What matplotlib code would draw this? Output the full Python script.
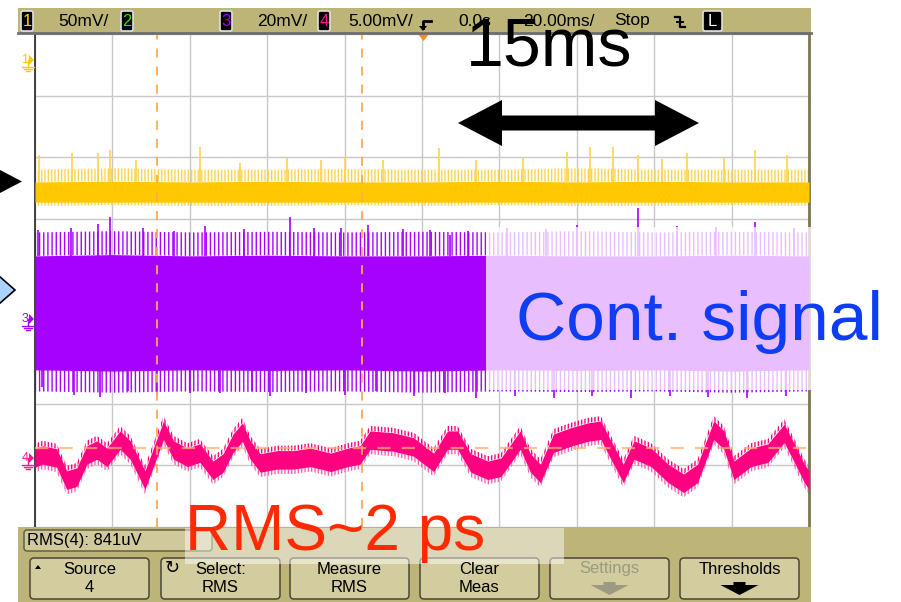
import matplotlib
matplotlib.use("Agg")
import matplotlib.pyplot as plt
from matplotlib.patches import Rectangle, Polygon, FancyBboxPatch

plt.rcParams['hatch.linewidth'] = 1.0
SANS = ['Liberation Sans', 'DejaVu Sans']
UIF = ['Liberation Sans Narrow', 'Liberation Sans', 'DejaVu Sans']

# ---------------- data (screen divisions: x 0..10 @ 20 ms/div, y -4..4) ----------------
header_scales = ["50mV/", "20mV/", "5.00mV/"]
header_time = ["0.0s", "20.00ms/", "Stop"]
channel_ids = ["1", "2", "3", "4"]
meas_text = "RMS(4): 841uV"
softkey_top = ["Source", "Select:", "Measure", "Clear", "Settings", "Thresholds"]
softkey_bottom = ["4", "RMS", "RMS", "Meas", "", ""]

cursor_t = [1.58, 4.22]
ch4_ref_level = -2.72

env_t = [0, 1, 2, 3, 4, 5, 6, 7, 8, 9, 10]
yellow_core_hi = [1.60, 1.61, 1.60, 1.61, 1.60, 1.60, 1.61, 1.60, 1.61, 1.60, 1.60]
yellow_core_lo = [1.27, 1.27, 1.27, 1.27, 1.27, 1.27, 1.27, 1.27, 1.27, 1.27, 1.27]
yellow_fringe_hi = [1.80, 1.82, 1.80, 1.80, 1.81, 1.80, 1.80, 1.82, 1.80, 1.80, 1.80]
yellow_fringe_lo = [1.21, 1.22, 1.21, 1.21, 1.22, 1.21, 1.22, 1.21, 1.21, 1.22, 1.21]
yellow_spike_t = [0.05, 0.48, 0.81, 0.97, 1.30, 2.13, 2.65, 3.26, 3.70, 4.00, 4.50,
                  5.22, 5.70, 6.30, 6.87, 7.17, 7.47, 7.79, 8.10, 8.42, 8.90, 9.30, 9.72]
yellow_spike_v = [2.04, 2.07, 2.07, 2.12, 1.95, 2.17, 1.91, 1.98, 1.95, 2.00, 1.95,
                  2.15, 1.96, 1.99, 2.09, 2.17, 2.17, 2.04, 1.97, 2.07, 1.98, 2.12, 2.04]

purple_core_hi = [0.40, 0.42, 0.40, 0.41, 0.40, 0.40, 0.41, 0.40, 0.40, 0.41, 0.40]
purple_core_lo = [-1.45, -1.47, -1.45, -1.46, -1.45, -1.47, -1.45, -1.46, -1.45, -1.47, -1.45]
purple_fringe_hi = [0.78, 0.80, 0.78, 0.79, 0.78, 0.79, 0.78, 0.80, 0.78, 0.79, 0.78]
purple_fringe_lo = [-1.80, -1.82, -1.80, -1.81, -1.80, -1.82, -1.80, -1.81, -1.80, -1.82, -1.80]
purple_up_t = [0.04, 0.47, 0.81, 0.97, 1.40, 1.80, 2.20, 2.70, 3.29, 3.60, 3.95, 4.30,
               4.75, 5.10, 5.36, 5.60, 6.10, 6.60, 7.00, 7.79, 8.30, 8.80, 9.30, 9.80]
purple_up_v = [0.82, 0.85, 0.92, 1.03, 0.85, 0.80, 0.88, 0.84, 1.03, 0.86, 0.85, 0.90,
               0.84, 0.82, 0.74, 0.80, 0.86, 0.84, 0.90, 1.18, 0.88, 0.87, 0.95, 0.86]
purple_dn_t = [0.09, 0.50, 0.84, 1.20, 1.58, 2.00, 2.39, 2.80, 3.04, 3.50, 4.00, 4.40,
               4.90, 5.30, 5.70, 6.20, 6.70, 7.20, 7.70, 8.20, 8.70, 9.20, 9.70]
purple_dn_v = [-1.73, -1.85, -1.89, -1.80, -1.88, -1.82, -1.83, -1.80, -1.88, -1.82,
               -1.86, -1.80, -1.87, -1.82, -1.90, -1.88, -1.90, -1.87, -1.90, -1.88,
               -1.89, -1.90, -1.88]

pink_t = [0.00, 0.10, 0.28, 0.41, 0.54, 0.67, 0.80, 0.93, 1.10, 1.23, 1.36, 1.42, 1.53,
          1.66, 1.79, 1.97, 2.13, 2.30, 2.43, 2.56, 2.68, 2.78, 2.91, 3.13, 3.34, 3.56,
          3.82, 4.04, 4.20, 4.33, 4.63, 4.89, 5.15, 5.33, 5.46, 5.63, 5.85, 6.02, 6.27,
          6.40, 6.53, 6.70, 6.92, 7.14, 7.31, 7.44, 7.60, 7.74, 7.96, 8.18, 8.38, 8.56,
          8.77, 8.90, 9.03, 9.25, 9.47, 9.68, 9.81, 9.94, 10.0]
pink_v = [-2.88, -2.83, -2.88, -3.24, -3.19, -2.83, -2.75, -2.87, -2.59, -2.75, -3.08,
          -3.24, -2.87, -2.43, -2.75, -2.87, -2.80, -3.08, -2.96, -2.64, -2.46, -2.75,
          -2.96, -2.91, -2.91, -2.87, -2.95, -2.87, -2.83, -2.59, -2.62, -2.70, -2.95,
          -2.59, -2.59, -2.96, -3.08, -3.03, -2.59, -2.96, -3.13, -2.64, -2.54, -2.46,
          -2.43, -2.75, -3.13, -2.75, -2.87, -3.13, -3.29, -3.13, -2.43, -2.59, -3.08,
          -2.87, -2.80, -2.48, -2.80, -3.13, -3.24]
pink_half = 0.15
pink_fringe = 0.08

# ---------------- colours ----------------
OLIVE = '#BDB478'
YEL = '#FFC800'
PUR = '#A600FF'
PNK = '#FF0080'

W, H = 901, 602
fig = plt.figure(figsize=(W / 100, H / 100), dpi=100)
fig.patch.set_facecolor('white')

# ---------------- graticule axes ----------------
ax = fig.add_axes([35 / W, 1 - 527 / H, 774 / W, 493 / H])
ax.set_xlim(0, 10)
ax.set_ylim(-4, 4)
ax.set_xticks(range(11))
ax.set_yticks(range(-4, 5))
ax.tick_params(length=0, labelbottom=False, labelleft=False)
ax.grid(True, color='#C8C8C8', lw=1.0)
ax.set_axisbelow(True)
for s in ['top', 'bottom']:
    ax.spines[s].set_visible(False)
ax.spines['left'].set_color('#333333')
ax.spines['left'].set_linewidth(1.3)
ax.spines['right'].set_color('#7D7650')
ax.spines['right'].set_linewidth(2)

# yellow (ch1)
ax.fill_between(env_t, yellow_core_hi, yellow_fringe_hi, facecolor='none',
                edgecolor='#FFD34D', hatch='|||||', lw=0, zorder=2)
ax.fill_between(env_t, yellow_fringe_lo, yellow_core_lo, facecolor='none',
                edgecolor='#FFD34D', hatch='|||||', lw=0, zorder=2)
ax.fill_between(env_t, yellow_core_lo, yellow_core_hi, color=YEL, lw=0, zorder=3)
ax.vlines(yellow_spike_t, yellow_core_hi[0], yellow_spike_v, color='#FFD34D', lw=1.2, zorder=2)

# purple (ch3)
ax.fill_between(env_t, purple_core_hi, purple_fringe_hi, facecolor='none',
                edgecolor=PUR, hatch='||||', lw=0, zorder=2)
ax.fill_between(env_t, purple_fringe_lo, purple_core_lo, facecolor='none',
                edgecolor=PUR, hatch='||||', lw=0, zorder=2)
ax.fill_between(env_t, purple_core_lo, purple_core_hi, color=PUR, lw=0, zorder=3)
ax.vlines(purple_up_t, purple_core_hi[0], purple_up_v, color=PUR, lw=1.2, zorder=2)
ax.vlines(purple_dn_t, purple_dn_v, purple_core_lo[0], color=PUR, lw=1.2, zorder=2)
# faded part of channel 3
ax.add_patch(Rectangle((5.83, -1.78), 4.2, 2.65, facecolor='white', alpha=0.75,
                       lw=0, zorder=4, clip_on=False))

# pink (ch4)
lo = [v - pink_half for v in pink_v]
hi = [v + pink_half for v in pink_v]
lo2 = [v - pink_half - pink_fringe for v in pink_v]
hi2 = [v + pink_half + pink_fringe for v in pink_v]
ax.fill_between(pink_t, hi, hi2, facecolor='none', edgecolor=PNK, hatch='|||||', lw=0, zorder=2)
ax.fill_between(pink_t, lo2, lo, facecolor='none', edgecolor='#FF60B0', hatch='|||||', lw=0, zorder=2)
ax.fill_between(pink_t, lo, hi, color=PNK, lw=0, zorder=3)

# cursors / reference level
for c in cursor_t:
    ax.axvline(c, color='#FFA850', lw=1.3, ls=(0, (5, 5)), zorder=5)
ax.axhline(ch4_ref_level, color='#FFB070', lw=1.6, ls=(0, (6, 5)), alpha=0.75, zorder=5)

# ---------------- UI overlay axes (pixel space) ----------------
ui = fig.add_axes([0, 0, 1, 1], zorder=5)
ui.set_xlim(0, W)
ui.set_ylim(H, 0)
ui.axis('off')
ui.patch.set_alpha(0)

# header
ui.add_patch(Rectangle((18, 8), 793, 25, facecolor=OLIVE, lw=0))
ui.plot([18, 811], [33, 33], color='#6E6E6E', lw=2)
box_x = [21, 121, 220, 318]
box_col = ['#FFD700', '#33DD00', '#A000FF', '#FF1493']
for bx, cid, col in zip(box_x, channel_ids, box_col):
    ui.add_patch(FancyBboxPatch((bx, 11), 12, 20, boxstyle='round,pad=0,rounding_size=2',
                                facecolor='black', edgecolor='#E0E0E0', lw=1.2))
    ui.text(bx + 6, 21.5, cid, color=col, fontsize=12, ha='center', va='center', family=UIF)
for x, s in zip([58, 257, 348], header_scales):
    ui.text(x, 21, s, fontsize=12.5, ha='left', va='center', family=UIF, color='black')
for x, s in zip([458, 523, 614], header_time):
    ui.text(x, 21, s, fontsize=12.5, ha='left', va='center', family=UIF, color='black')
# trigger icon
ui.plot([431, 423, 423], [21, 21, 28], color='black', lw=2)
ui.add_patch(Polygon([(419, 26), (427, 26), (423, 31)], closed=True, facecolor='black', lw=0))
ui.add_patch(Polygon([(418, 34), (429, 34), (423.5, 41)], closed=True, facecolor='#FF8C1A', lw=0))
# edge icon
ui.plot([675, 680, 680, 685], [17, 17, 27, 27], color='black', lw=1.6)
ui.plot([677, 683], [22, 22], color='black', lw=1.4)
# L box
ui.add_patch(FancyBboxPatch((703, 11), 19, 20, boxstyle='round,pad=0,rounding_size=2',
                            facecolor='black', edgecolor='#E0E0E0', lw=1.2))
ui.text(712.5, 21.5, 'L', color='white', fontsize=12, ha='center', va='center', family=UIF)

# channel ground markers
for lab, y, col in [('1', 60, '#FFC800'), ('3', 319, '#A600FF'), ('4', 458, '#FF1493')]:
    ui.text(25, y, lab, color=col, fontsize=9, ha='center', va='center', family=UIF)
    ui.add_patch(Polygon([(29, y - 5), (34, y), (29, y + 5)], closed=True, facecolor=col, lw=0))
    ui.plot([28, 28], [y, y + 7], color=col, lw=1)
    ui.plot([22, 34], [y + 7, y + 7], color=col, lw=1)
    ui.plot([24, 32], [y + 9, y + 9], color=col, lw=1)
    ui.plot([26, 30], [y + 11, y + 11], color=col, lw=1)

# left markers
ui.add_patch(Polygon([(0, 170), (22, 181.5), (0, 193)], closed=True, facecolor='black', lw=0))
ui.add_patch(Polygon([(-1, 276), (15, 290), (-1, 304)], closed=True, facecolor='#AAD4FF',
                     edgecolor='black', lw=1.2))

# bottom panel
ui.add_patch(Rectangle((18, 527), 793, 76, facecolor=OLIVE, lw=0))
ui.add_patch(FancyBboxPatch((24, 530), 188, 21, boxstyle='round,pad=0,rounding_size=3',
                            facecolor='#CFC99C', edgecolor='#5A5640', lw=1))
ui.text(27, 541, meas_text, fontsize=12, ha='left', va='center', family=UIF, color='black')

btn_x = [30, 161, 290, 420, 550, 680]
for i, bx in enumerate(btn_x):
    ui.add_patch(FancyBboxPatch((bx, 558), 119, 41, boxstyle='round,pad=0,rounding_size=4',
                                facecolor='#D2CC9E', edgecolor='#4A4636', lw=1.1))
    cx = bx + 59.5
    col = '#9C9A80' if softkey_top[i] == 'Settings' else 'black'
    ui.text(cx, 569, softkey_top[i], fontsize=12, ha='center', va='center', family=UIF, color=col)
    if softkey_bottom[i]:
        ui.text(cx, 587, softkey_bottom[i], fontsize=12, ha='center', va='center', family=UIF, color=col)
    else:
        ui.add_patch(Polygon([(cx - 6, 582), (cx + 6, 582), (cx + 6, 585), (cx + 19, 585),
                              (cx, 595), (cx - 19, 585), (cx - 6, 585)], closed=True,
                             facecolor=col, lw=0))
ui.add_patch(Polygon([(35, 569), (41, 569), (38, 565)], closed=True, facecolor='black', lw=0))
ui.text(172, 568, '\u21bb', fontsize=13, ha='center', va='center', family=['DejaVu Sans'], color='black')

# annotations
ui.add_patch(Rectangle((185, 528), 379, 36, facecolor='white', alpha=0.48, lw=0))
ui.text(185, 550, 'RMS~2 ps', color='#FF2A00', fontsize=46, ha='left', va='baseline', family=SANS)
ui.text(466, 65, '15ms', color='black', fontsize=49, ha='left', va='baseline', family=SANS)
ui.text(516, 340, 'Cont. signal', color='#0F3CF5', fontsize=50, ha='left', va='baseline', family=SANS)
ui.add_patch(Polygon([(458, 123), (502, 100), (502, 115.5), (655, 115.5), (655, 100), (699, 123),
                      (655, 146), (655, 130.5), (502, 130.5), (502, 146)], closed=True,
                     facecolor='black', lw=0))

fig.savefig('out.png', dpi=100)
